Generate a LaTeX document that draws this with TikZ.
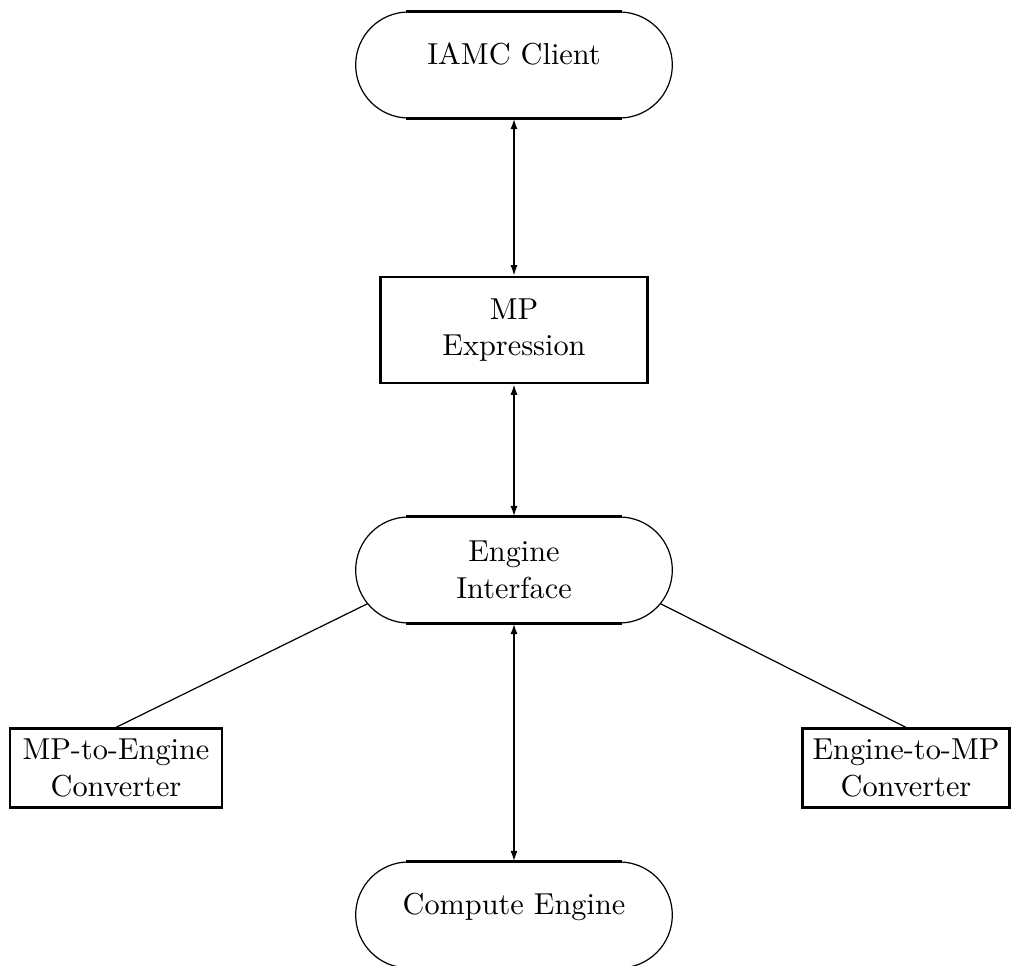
\documentclass[tikz,border=0pt]{standalone}
\usepackage{tikz}
\usetikzlibrary{shapes.misc, arrows.meta}
\tikzset{
  term/.style={rounded rectangle, draw, thin, minimum width=108.5pt,
               minimum height=35pt, align=center, inner sep=2pt},
  oneline/.style={text height=7pt, text depth=7pt},
  box/.style={rectangle, draw, line width=0.8pt, align=center},
  flatedge/.style={line width=1pt},
  arr/.style={<->, >={Latex[length=3.5pt,width=2.4pt]}, line width=0.6pt},
  link/.style={thin},
}
\begin{document}
\begin{tikzpicture}[x=0.33pt, y=-0.33pt]
  \useasboundingbox (0,0) rectangle (1011,966);
  % main column
  \node[term, oneline] (client) at (514,65) {IAMC Client};
  \node[box, minimum width=88pt, minimum height=35pt] (expr) at (514,330) {MP\\Expression};
  \node[term] (iface) at (514,570) {Engine\\Interface};
  \node[term, oneline] (engine) at (514,915) {Compute Engine};
  % converters
  \node[box, minimum width=70pt, minimum height=26pt] (mptoeng) at (116,768) {MP-to-Engine\\Converter};
  \node[box, minimum width=67pt, minimum height=26pt] (engtomp) at (906,768) {Engine-to-MP\\Converter};
  % thick flat edges of the terminals
  \foreach \n in {client, iface, engine} {
    \draw[flatedge] ([xshift=-35.5pt]\n.north) -- ([xshift=35.5pt]\n.north);
    \draw[flatedge] ([xshift=-35.5pt]\n.south) -- ([xshift=35.5pt]\n.south);
  }
  \draw[arr] (client.south) -- (expr.north);
  \draw[arr] (expr.south) -- (iface.north);
  \draw[arr] (iface.south) -- (engine.north);
  \draw[link] (iface.193) -- (mptoeng.north);
  \draw[link] (iface.347) -- (engtomp.north);
\end{tikzpicture}
\end{document}
